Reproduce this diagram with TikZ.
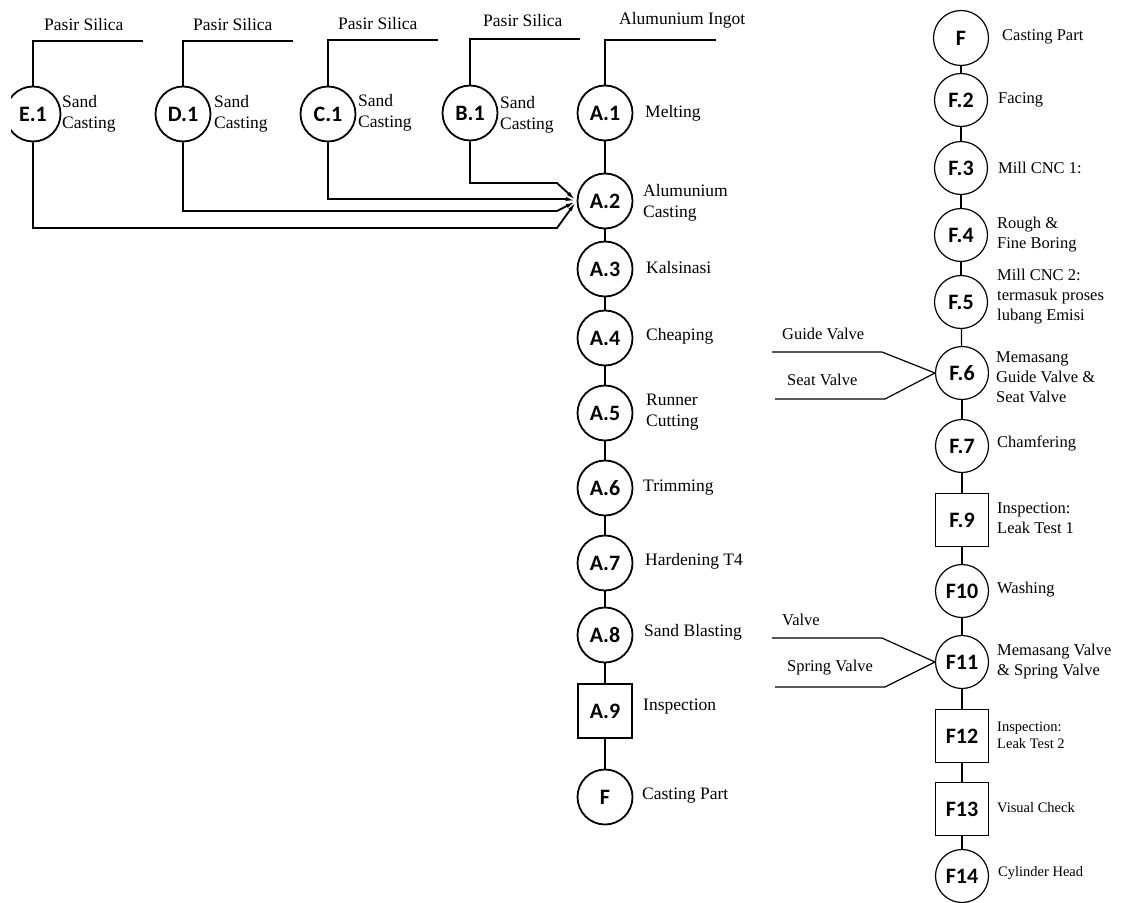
\documentclass[tikz,border=0pt]{standalone}
\usepackage{fontspec}
\setmainfont{Liberation Serif}
\newfontfamily\labfont{Carlito}
\usetikzlibrary{arrows.meta}

\begin{document}
\begin{tikzpicture}[x=1pt,y=-1pt,
  proc/.style={circle,draw,line width=1.8pt,minimum size=55pt,inner sep=0pt,
    font=\labfont\bfseries\fontsize{22}{22}\selectfont},
  insp/.style={rectangle,draw,line width=1.8pt,minimum size=54pt,inner sep=0pt,
    font=\labfont\bfseries\fontsize{22}{22}\selectfont},
  fproc/.style={proc,line width=1.2pt,minimum size=53pt},
  finsp/.style={insp,line width=1.2pt,minimum size=53pt},
  link/.style={line width=1.8pt},
  flink/.style={line width=1.2pt},
  txt/.style={anchor=west,inner sep=0pt,align=left,font=\fontsize{17.5}{21}\selectfont},
  ftxt/.style={txt,font=\fontsize{16.5}{20}\selectfont},
  stxt/.style={txt,font=\fontsize{14.5}{17}\selectfont},
  arr/.style={link,-{Latex[length=11pt,width=4pt]}}
]
\useasboundingbox (0,0) rectangle (1123,902);
\clip (11,0) rectangle (1123,902);

% ---------------- main casting line ----------------
\node[proc] (A1) at (605,113) {A.1};
\node[proc] (A2) at (605,201) {A.2};
\node[proc] (A3) at (605,269) {A.3};
\node[proc] (A4) at (605,338) {A.4};
\node[proc] (A5) at (605,413) {A.5};
\node[proc] (A6) at (605,488) {A.6};
\node[proc] (A7) at (605,563) {A.7};
\node[proc] (A8) at (605,635) {A.8};
\node[insp] (A9) at (605,711) {A.9};
\node[proc] (AF) at (605,797) {F};

\foreach \u/\v in {A1/A2,A2/A3,A3/A4,A4/A5,A5/A6,A6/A7,A7/A8,A8/A9,A9/AF}
  \draw[link] (\u) -- (\v);

\node[txt] (tA1) at (645,113) {Melting};
\node[txt] (tA2) at (643,203) {Alumunium\\Casting};
\node[txt] (tA3) at (646,268) {Kalsinasi};
\node[txt] (tA4) at (646,336) {Cheaping};
\node[txt] (tA5) at (646,412) {Runner\\Cutting};
\node[txt] (tA6) at (643,488) {Trimming};
\node[txt] (tA7) at (645,561) {Hardening T4};
\node[txt] (tA8) at (644,632) {Sand Blasting};
\node[txt] (tA9) at (643,707) {Inspection};
\node[txt] (tAF) at (642,796) {Casting Part};

\node[txt] (ingot) at (619,20) {Alumunium Ingot};
\coordinate (ingotend) at (716,40);
\draw[link] (ingotend) -| (A1);

% ---------------- sand casting branches ----------------
\node[proc] (E1) at (33,114) {E.1};
\node[proc] (D1) at (183,114) {D.1};
\node[proc] (C1) at (328,114) {C.1};
\node[proc] (B1) at (470,113) {B.1};

\node[txt] (tE1) at (62,114) {Sand\\Casting};
\node[txt] (tD1) at (214,114) {Sand\\Casting};
\node[txt] (tC1) at (358,113) {Sand\\Casting};
\node[txt] (tB1) at (500,115) {Sand\\Casting};

\node[txt] (sE) at (44,25) {Pasir Silica};
\node[txt] (sD) at (193,25) {Pasir Silica};
\node[txt] (sC) at (338,24) {Pasir Silica};
\node[txt] (sB) at (483,21) {Pasir Silica};

\coordinate (eS) at (143,41);
\coordinate (dS) at (293,41);
\coordinate (cS) at (438,40);
\coordinate (bS) at (580,39);
\draw[link] (eS) -| (E1);
\draw[link] (dS) -| (D1);
\draw[link] (cS) -| (C1);
\draw[link] (bS) -| (B1);

\coordinate (eK) at (557,228);
\coordinate (dK) at (557,211);
\coordinate (cK) at (566,199);
\coordinate (bK) at (557,183);
\draw[arr] (E1) |- (eK) -- (A2.west);
\draw[arr] (D1) |- (dK) -- (A2.west);
\draw[arr] (C1) |- (cK) -- (A2.west);
\draw[arr] (B1) |- (bK) -- (A2.west);

% ---------------- machining line ----------------
\node[fproc,minimum size=55pt] (F0) at (961,38) {F};
\node[fproc] (F2) at (961,100) {F.2};
\node[fproc] (F3) at (961,168) {F.3};
\node[fproc] (F4) at (961,235) {F.4};
\node[fproc] (F5) at (961,302) {F.5};
\node[fproc] (F6) at (962,373) {F.6};
\node[fproc] (F7) at (962,446) {F.7};
\node[finsp] (F9) at (962,520) {F.9};
\node[fproc] (F10) at (962,591) {F10};
\node[fproc] (F11) at (962,662) {F11};
\node[finsp] (F12) at (962,736) {F12};
\node[finsp] (F13) at (962,809) {F13};
\node[fproc] (F14) at (962,876) {F14};

\foreach \u/\v in {F0/F2,F2/F3,F3/F4,F4/F5,F5/F6,F6/F7,F7/F9,F9/F10,F10/F11,F11/F12,F12/F13,F13/F14}
  \draw[flink] (\u) -- (\v);

\node[ftxt] (tF0) at (1002,37) {Casting Part};
\node[ftxt] (tF2) at (998,100) {Facing};
\node[ftxt] (tF3) at (998,168) {Mill CNC 1:};
\node[ftxt] (tF4) at (997,235) {Rough \&\\Fine Boring};
\node[ftxt] (tF5) at (997,297) {Mill CNC 2:\\termasuk proses\\lubang Emisi};
\node[ftxt] (tF6) at (996,377) {Memasang\\Guide Valve \&\\Seat Valve};
\node[ftxt] (tF7) at (997,443) {Chamfering};
\node[ftxt] (tF9) at (997,518) {Inspection:\\Leak Test 1};
\node[ftxt] (tF10) at (997,590) {Washing};
\node[ftxt] (tF11) at (997,662) {Memasang Valve\\\& Spring Valve};
\node[stxt] (tF12) at (997,735) {Inspection:\\Leak Test 2};
\node[stxt] (tF13) at (997,808) {Visual Check};
\node[stxt] (tF14) at (998,873) {Cylinder Head};

% component inputs
\node[ftxt] (gv) at (782,334) {Guide Valve};
\node[ftxt] (sv) at (787,380) {Seat Valve};
\coordinate (gv0) at (772,352);
\coordinate (gv1) at (882,352);
\coordinate (sv0) at (775,399);
\coordinate (sv1) at (885,399);
\draw[flink] (gv0) -- (gv1) -- (F6.west);
\draw[flink] (sv0) -- (sv1) -- (F6.west);

\node[ftxt] (vv) at (782,620) {Valve};
\node[ftxt] (spv) at (787,668) {Spring Valve};
\coordinate (vv0) at (772,638);
\coordinate (vv1) at (882,638);
\coordinate (spv0) at (775,687);
\coordinate (spv1) at (885,687);
\draw[flink] (vv0) -- (vv1) -- (F11.west);
\draw[flink] (spv0) -- (spv1) -- (F11.west);

\end{tikzpicture}
\end{document}
